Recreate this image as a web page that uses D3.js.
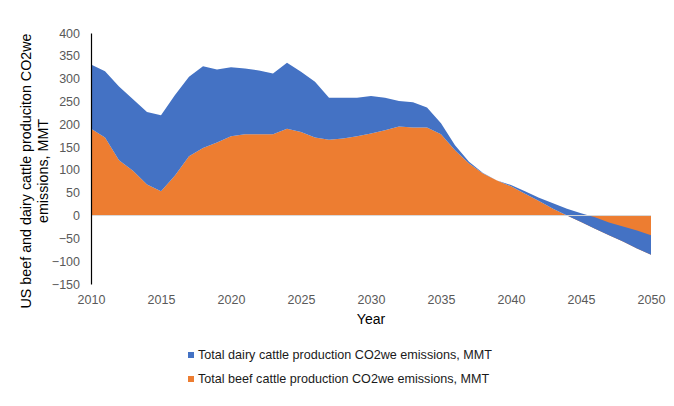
<!DOCTYPE html>
<html>
<head>
<meta charset="utf-8">
<script src="https://cdn.jsdelivr.net/npm/d3@7"></script>
<style>
  html, body { margin: 0; padding: 0; background: #fff; }
  text { font-family: "Liberation Sans", Arial, sans-serif; }
</style>
</head>
<body>
<svg id="chart" width="674" height="406"></svg>
<script>
// 數據：年份、牛肉與乳牛排放量 (MMT)
const years = d3.range(2010, 2051);
const beef = [190, 171, 121, 98, 68, 53, 88, 130, 148, 160,
              174, 178, 178, 178, 190, 183, 171, 166, 169, 174,
              180, 187, 195, 193, 193, 178, 143, 114, 92, 77,
              64, 48, 32, 15, 0, -14, -29, -43, -57, -72, -86];
const dairy = [141, 145, 162, 157, 159, 167, 176, 174, 179, 160,
               151, 144, 140, 133, 145, 132, 122, 92, 89, 84,
               82, 71, 56, 55, 44, 24, 11, 4, 1, 0,
               3, 5, 7, 12, 15, 19, 25, 28, 33, 39, 43];
const yTicks = [-150, -100, -50, 0, 50, 100, 150, 200, 250, 300, 350, 400];
const xTicks = [2010, 2015, 2020, 2025, 2030, 2035, 2040, 2045, 2050];
const seriesNames = ['Total dairy cattle production CO2we emissions, MMT',
                     'Total beef cattle production CO2we emissions, MMT'];
const colors = { beef: '#ED7D31', dairy: '#4472C4' };

const svg = d3.select('#chart');
const margin = { top: 33, left: 91, right: 23, bottom: 122 };
const width = 674 - margin.left - margin.right;
const height = 406 - margin.top - margin.bottom;

const x = d3.scaleLinear().domain([2010, 2050]).range([0, width]);
const y = d3.scaleLinear().domain([-150, 400]).range([height, 0]);

const g = svg.append('g').attr('transform', `translate(${margin.left},${margin.top})`);

// 堆疊：牛肉在下，乳牛疊在上 (與 Excel 的堆疊面積相同)
const table = years.map((yr, i) => ({ year: yr, beef: beef[i], dairy: dairy[i] }));
const stacked = d3.stack().keys(['beef', 'dairy']).offset(d3.stackOffsetNone)(table);

const area = d3.area()
    .x(d => x(d.data.year))
    .y0(d => y(d[0]))
    .y1(d => y(d[1]));

g.selectAll('.layer')
    .data(stacked)
    .enter()
    .append('path')
    .attr('class', 'layer')
    .attr('fill', d => colors[d.key])
    .attr('d', area);

// 零線
g.append('line')
    .attr('x1', 0).attr('x2', width)
    .attr('y1', y(0)).attr('y2', y(0))
    .attr('stroke', '#d9d9d9')
    .attr('stroke-width', 1);

// Y 軸
const yAxis = g.append('g')
    .call(d3.axisLeft(y).tickValues(yTicks).tickSize(0).tickPadding(11));
yAxis.select('.domain').attr('stroke', '#000').attr('stroke-width', 1.2);
yAxis.selectAll('text').attr('fill', '#595959').attr('font-size', '12.5px')
    .attr('font-family', '"Liberation Sans", Arial, sans-serif');

// X 軸 (只有標籤)
const xAxis = g.append('g')
    .attr('transform', `translate(0,${height})`)
    .call(d3.axisBottom(x).tickValues(xTicks).tickFormat(d3.format('d')).tickSize(0).tickPadding(11));
xAxis.select('.domain').remove();
xAxis.selectAll('text').attr('fill', '#595959').attr('font-size', '12.5px')
    .attr('font-family', '"Liberation Sans", Arial, sans-serif');

// 軸標題
svg.append('text')
    .attr('x', 371).attr('y', 324)
    .attr('text-anchor', 'middle')
    .attr('font-size', '14px')
    .attr('fill', '#000')
    .text('Year');

const yTitle = svg.append('text')
    .attr('transform', 'translate(31,171) rotate(-90)')
    .attr('text-anchor', 'middle')
    .attr('font-size', '14.3px')
    .attr('fill', '#000');
yTitle.append('tspan').attr('x', 0).attr('dy', 0)
    .text('US beef and dairy cattle produciton CO2we');
yTitle.append('tspan').attr('x', 0).attr('dy', 17)
    .text('emissions, MMT');

// 圖例
const legend = svg.append('g').attr('transform', 'translate(188,352)');
const legendColors = [colors.dairy, colors.beef];
seriesNames.forEach((name, i) => {
    const row = legend.append('g').attr('transform', `translate(0,${i * 24})`);
    row.append('rect')
        .attr('x', 0).attr('y', 0)
        .attr('width', 6).attr('height', 6)
        .attr('fill', legendColors[i]);
    row.append('text')
        .attr('x', 10).attr('y', 7)
        .attr('font-size', '12.6px')
        .attr('fill', '#1a1a1a')
        .text(name);
});
</script>
</body>
</html>
